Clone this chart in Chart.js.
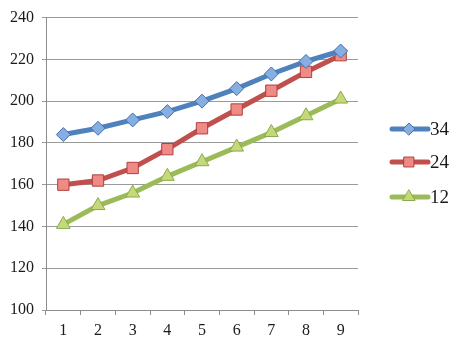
<!DOCTYPE html>
<html>
<head>
<meta charset="utf-8">
<script src="https://cdn.jsdelivr.net/npm/chart.js@4.4.0/dist/chart.umd.min.js"></script>
<style>
  html, body { margin: 0; padding: 0; background: #fff; }
  #wrap { width: 454px; height: 341px; }
</style>
</head>
<body>
<div id="wrap"><canvas id="chart" width="454" height="341"></canvas></div>
<script>
const categories = ['1', '2', '3', '4', '5', '6', '7', '8', '9'];
const seriesNames = ['34', '24', '12'];
const values34 = [184, 187, 191, 195, 200, 206, 213, 219, 224];
const values24 = [160, 162, 168, 177, 187, 196, 205, 214, 222];
const values12 = [141, 150, 156, 164, 171, 178, 185, 193, 201];
const yTicks = [100, 120, 140, 160, 180, 200, 220, 240];

const lineColors = ['#4f81bd', '#c0504d', '#9bbb59'];
const markerFill = ['#86aee0', '#f08a86', '#c5d97c'];
const markerEdge = ['#3f70b0', '#b0403c', '#8aab48'];
const markerStyle = ['rectRot', 'rect', 'triangle'];
const markerSize = [7, 8, 8];

const FONT = '"Liberation Serif", "DejaVu Serif", serif';

// legend on the right: line sample with the marker in the middle
const sideLegend = {
  id: 'sideLegend',
  afterDraw(chart) {
    const ctx = chart.ctx;
    const rows = [129, 162, 197];
    chart.data.datasets.forEach((ds, i) => {
      const y = rows[i];
      ctx.save();
      ctx.strokeStyle = ds.borderColor;
      ctx.lineWidth = 5;
      ctx.lineCap = 'round';
      ctx.beginPath();
      ctx.moveTo(392, y);
      ctx.lineTo(428, y);
      ctx.stroke();
      ctx.fillStyle = ds.pointBackgroundColor;
      ctx.strokeStyle = ds.pointBorderColor;
      ctx.lineWidth = 1;
      Chart.helpers.drawPoint(ctx, {
        pointStyle: ds.pointStyle,
        radius: ds.pointRadius - 1,
        rotation: 0,
        borderWidth: 1
      }, 409, y);
      ctx.fillStyle = '#1a1a1a';
      ctx.font = '19px ' + FONT;
      ctx.textBaseline = 'middle';
      ctx.textAlign = 'left';
      ctx.fillText(ds.label, 430, y + 1);
      ctx.restore();
    });
  }
};

const allValues = [values34, values24, values12];

new Chart(document.getElementById('chart'), {
  type: 'line',
  data: {
    labels: categories,
    datasets: seriesNames.map((name, i) => ({
      label: name,
      data: allValues[i],
      borderColor: lineColors[i],
      borderWidth: 5,
      pointStyle: markerStyle[i],
      pointRadius: markerSize[i],
      pointBackgroundColor: markerFill[i],
      pointBorderColor: markerEdge[i],
      pointBorderWidth: 1,
      tension: 0,
      fill: false
    }))
  },
  options: {
    responsive: false,
    animation: false,
    layout: { padding: { top: 15, right: 96, bottom: 0, left: 0 } },
    plugins: {
      legend: { display: false },
      tooltip: { enabled: false }
    },
    scales: {
      x: {
        offset: true,
        grid: {
          offset: true,
          drawOnChartArea: false,
          color: '#8c8c8c',
          tickLength: 5
        },
        border: { color: '#8c8c8c', width: 1 },
        ticks: {
          color: '#1a1a1a',
          font: { family: FONT, size: 16 },
          padding: 6
        },
        afterFit(scale) { scale.height = 31; }
      },
      y: {
        min: 100,
        max: 240,
        afterBuildTicks(scale) { scale.ticks = yTicks.map(v => ({ value: v })); },
        grid: {
          color: '#9a9a9a',
          tickLength: 4
        },
        border: { color: '#8c8c8c', width: 1 },
        ticks: {
          color: '#1a1a1a',
          font: { family: FONT, size: 16 },
          padding: 8
        },
        afterFit(scale) { scale.width = 46; }
      }
    }
  },
  plugins: [sideLegend]
});
</script>
</body>
</html>
